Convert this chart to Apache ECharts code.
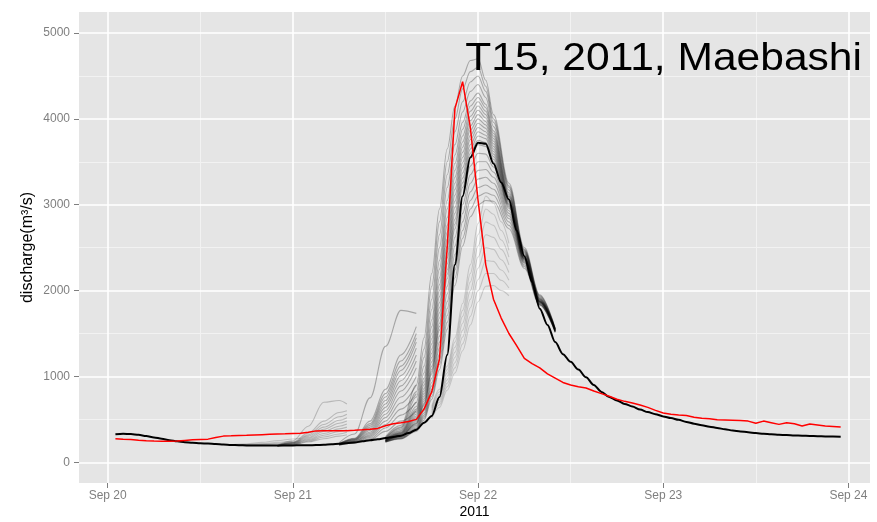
<!DOCTYPE html>
<html><head><meta charset="utf-8">
<script src="https://cdn.jsdelivr.net/npm/echarts@6/dist/echarts.min.js"></script>
<style>html,body{margin:0;padding:0;background:#fff}#c{width:877px;height:522px}</style>
</head><body><div id="c"></div>
<script>
// x values are hours after 2011-09-20 00:00
const dayTicks = [0, 24, 48, 72, 96];
const dayLabels = ['Sep 20', 'Sep 21', 'Sep 22', 'Sep 23', 'Sep 24'];
const halfDayTicks = [12, 36, 60, 84];
const valueTicks = [0, 1000, 2000, 3000, 4000, 5000];
const halfValueTicks = [500, 1500, 2500, 3500, 4500];
const titleText = 'T15, 2011, Maebashi';
const yName = 'discharge(m\u00b3/s)';
const xName = '2011';

// hourly observed (red) and simulated (black), hours 1..95
const seriesStartHour = 1;
const observed = [
  275,270,266,258,252,248,246,245,248,255,
  262,266,270,290,305,308,312,314,318,322,
  326,330,332,335,338,350,366,368,368,368,
  369,372,378,386,395,425,448,460,475,500,
  620,820,1200,2500,4120,4433,3900,3050,2300,1900,
  1680,1500,1360,1210,1150,1100,1030,980,930,900,
  880,865,830,800,770,735,710,690,668,640,
  605,575,560,552,545,525,512,508,495,493,
  490,487,480,455,480,462,442,461,448,424,
  446,435,423,418,411
];
const simulated = [
  326,332,330,320,305,290,275,258,245,235,
  228,222,218,212,206,202,199,197,196,195,
  195,195,196,197,198,199,201,204,209,215,
  222,232,244,256,268,282,295,310,340,380,
  460,540,760,1250,2300,3100,3550,3722,3710,3480,
  3260,3060,2700,2400,2100,1790,1600,1400,1260,1170,
  1080,990,900,820,760,720,680,650,615,585,
  560,535,515,495,470,450,432,415,400,385,
  370,360,350,340,333,327,322,317,313,310,
  307,304,302,300,298
];

// ensemble forecast members (grey)
const ens1Hours = [16, 18, 20, 22, 24, 25];
const ens1 = [
  [205,215,232,252,272,282],
  [203,208,218,232,246,252],
  [202,205,210,219,229,233],
  [201,203,206,211,216,219]
];
const ens2Hours = [22, 24, 26, 28, 30, 31];
const ens2 = [
  [200,250,420,700,720,680],
  [195,235,340,480,580,600],
  [195,230,320,440,530,560],
  [192,226,305,410,490,520],
  [192,222,290,385,455,480],
  [190,218,278,360,420,445],
  [190,214,266,335,390,410],
  [188,210,255,315,360,380],
  [188,206,245,295,330,350],
  [186,203,236,275,305,320]
];
const ens3Hours = [30, 32, 34, 36, 38, 40];
const ens3 = [
  [230,330,750,1350,1770,1735],
  [220,280,480,850,1250,1580],
  [220,275,450,800,1180,1500],
  [215,270,430,760,1120,1450],
  [215,265,410,720,1070,1400],
  [215,260,390,680,1010,1330],
  [210,255,370,640,950,1250],
  [210,250,350,600,890,1180],
  [210,245,335,560,830,1100],
  [205,240,320,520,760,1000],
  [205,235,305,480,690,900],
  [205,232,290,440,620,800],
  [200,228,275,400,550,700],
  [200,225,262,360,480,600]
];
const ens4Hours = [36,38,40,41,42,43,44,45,46,47,48,49,50,52,54,56,58];
const ens4 = [
  [300,430,900,1450,2200,2950,3650,4150,4500,4680,4700,4450,4050,3250,2500,1950,1560],
  [290,410,820,1320,2050,2800,3500,4000,4350,4550,4600,4380,4000,3220,2480,1940,1560],
  [285,400,760,1220,1900,2650,3350,3850,4200,4430,4500,4320,3960,3200,2470,1930,1555],
  [280,385,700,1120,1780,2500,3200,3700,4080,4320,4400,4250,3910,3170,2460,1920,1555],
  [275,370,650,1040,1660,2350,3050,3580,3960,4210,4300,4170,3860,3140,2450,1910,1550],
  [270,360,620,980,1580,2250,2950,3480,3880,4150,4250,4130,3830,3120,2440,1905,1550],
  [268,350,600,940,1500,2150,2850,3400,3800,4090,4200,4090,3800,3100,2430,1900,1548],
  [265,345,580,900,1440,2070,2760,3320,3730,4030,4150,4050,3770,3090,2420,1895,1546],
  [262,340,560,860,1380,2000,2680,3250,3670,3980,4100,4010,3740,3070,2410,1890,1544],
  [260,335,540,830,1320,1930,2600,3180,3610,3920,4050,3970,3710,3060,2400,1885,1542],
  [258,330,520,800,1270,1860,2520,3110,3550,3870,4000,3930,3680,3040,2390,1880,1540],
  [256,325,505,770,1220,1800,2450,3040,3490,3810,3950,3890,3650,3030,2385,1878,1538],
  [254,320,490,740,1170,1740,2380,2970,3430,3760,3900,3850,3620,3010,2380,1875,1536],
  [252,315,475,715,1120,1680,2310,2900,3370,3700,3850,3810,3590,3000,2375,1872,1534],
  [250,310,460,690,1080,1620,2240,2830,3310,3650,3800,3770,3560,2990,2370,1870,1532],
  [249,308,452,675,1055,1580,2190,2775,3255,3600,3750,3725,3530,2975,2365,1868,1531],
  [248,305,445,660,1030,1540,2140,2720,3200,3550,3700,3680,3500,2960,2360,1865,1530],
  [246,300,430,630,980,1470,2050,2620,3100,3450,3600,3590,3440,2930,2350,1860,1528],
  [244,295,415,600,930,1400,1960,2520,3000,3350,3500,3500,3380,2900,2340,1855,1525],
  [242,290,400,575,890,1330,1870,2420,2900,3250,3400,3410,3320,2870,2330,1850,1522],
  [240,285,390,550,850,1260,1790,2330,2800,3150,3300,3320,3250,2840,2320,1845,1520],
  [238,280,380,530,810,1200,1710,2240,2700,3050,3200,3230,3180,2800,2300,1840,1518],
  [236,276,370,510,770,1140,1630,2150,2610,2950,3100,3140,3110,2760,2280,1835,1515],
  [234,272,360,490,735,1080,1550,2060,2520,2860,3000,3050,3040,2720,2260,1830,1512]
];
const ens5Hours = [42,43,44,45,46,47,48,49,50,51,52];
const ens5 = [
  [650,850,1120,1450,1850,2300,2780,3100,3020,2800,2550],
  [630,820,1080,1400,1770,2200,2650,2950,2890,2700,2470],
  [610,790,1040,1340,1700,2100,2520,2800,2760,2590,2390],
  [590,760,1000,1280,1620,2000,2390,2650,2620,2480,2300],
  [570,730,960,1220,1540,1900,2260,2500,2480,2360,2210],
  [550,700,920,1160,1460,1800,2130,2350,2340,2240,2120],
  [530,670,880,1100,1380,1700,2000,2200,2200,2120,2030],
  [510,640,840,1040,1300,1600,1870,2050,2060,2000,1940]
];

const xMin = -3.72, xMax = 98.8;
const yMin = -241, yMax = 5245;

const FONT = 'Liberation Sans, Arial, Helvetica, sans-serif';
const GREY_TXT = '#7F7F7F';

function toPairs(hours, vals) { return hours.map((h, i) => [h, vals[i]]); }
function hourly(start, vals) { return vals.map((v, i) => [start + i, v]); }

const ensSeries = [];
[[ens1Hours, ens1, 0.16], [ens2Hours, ens2, 0.2], [ens3Hours, ens3, 0.28], [ens4Hours, ens4, 0.27], [ens5Hours, ens5, 0.15]].forEach(([hrs, members, a]) => {
  members.forEach(vals => {
    ensSeries.push({
      type: 'line', xAxisIndex: 0, yAxisIndex: 0,
      data: toPairs(hrs, vals),
      showSymbol: false, smooth: 0.35, smoothMonotone: 'x', silent: true, z: 3,
      lineStyle: { color: 'rgba(0,0,0,' + a + ')', width: 1.1 }
    });
  });
});

const chart = echarts.init(document.getElementById('c'), null, { renderer: 'canvas' });
chart.setOption({
  animation: false,
  textStyle: { fontFamily: FONT },
  grid: {
    left: 79, right: 7, top: 12, bottom: 39,
    show: true, backgroundColor: '#E5E5E5', borderWidth: 0,
    outerBoundsMode: 'none', containLabel: false
  },
  xAxis: [
    {
      type: 'value', min: xMin, max: xMax, z: 2, position: 'bottom',
      axisLine: { show: false, onZero: false },
      axisTick: { show: true, length: 5, customValues: dayTicks, lineStyle: { color: GREY_TXT, width: 1 } },
      axisLabel: {
        customValues: dayTicks, color: GREY_TXT, fontSize: 12, margin: 7,
        formatter: v => dayLabels[dayTicks.indexOf(Math.round(v))] || ''
      },
      splitLine: { show: true, lineStyle: { color: '#FFFFFF', width: 1.6 } },
      name: xName, nameLocation: 'middle', nameGap: 22, nameMoveOverlap: false,
      nameTextStyle: { color: '#000', fontSize: 14 }
    },
    {
      type: 'value', min: xMin, max: xMax, z: 1, position: 'top',
      axisLine: { show: false, onZero: false },
      axisTick: { show: false, customValues: halfDayTicks },
      axisLabel: { show: false },
      splitLine: { show: true, lineStyle: { color: '#F2F2F2', width: 1 } }
    }
  ],
  yAxis: [
    {
      type: 'value', min: yMin, max: yMax, z: 2, position: 'left',
      axisLine: { show: false, onZero: false },
      axisTick: { show: true, length: 5, customValues: valueTicks, lineStyle: { color: GREY_TXT, width: 1 } },
      axisLabel: { customValues: valueTicks, color: GREY_TXT, fontSize: 12, margin: 9, formatter: v => String(v) },
      splitLine: { show: true, lineStyle: { color: '#FFFFFF', width: 1.6 } },
      name: yName, nameLocation: 'middle', nameGap: 43, nameRotate: 90, nameMoveOverlap: false,
      nameTextStyle: { color: '#000', fontSize: 16 }
    },
    {
      type: 'value', min: yMin, max: yMax, z: 1, position: 'right',
      axisLine: { show: false, onZero: false },
      axisTick: { show: false, customValues: halfValueTicks },
      axisLabel: { show: false },
      splitLine: { show: true, lineStyle: { color: '#F2F2F2', width: 1 } }
    }
  ],
  graphic: [{
    type: 'text', x: 862, y: 41, scaleX: 1.12, z: 100,
    style: { text: titleText, fontSize: 38, fontFamily: FONT, fill: '#000', align: 'right', verticalAlign: 'top' }
  }],
  series: ensSeries.concat([
    {
      type: 'line', data: hourly(seriesStartHour, simulated), showSymbol: false, silent: true, z: 4,
      smooth: 0.3, smoothMonotone: 'x',
      lineStyle: { color: '#000000', width: 2 }
    },
    {
      type: 'line', data: hourly(seriesStartHour, observed), showSymbol: false, silent: true, z: 5,
      lineStyle: { color: '#FF0000', width: 1.5 }
    }
  ])
});
</script>
</body></html>
